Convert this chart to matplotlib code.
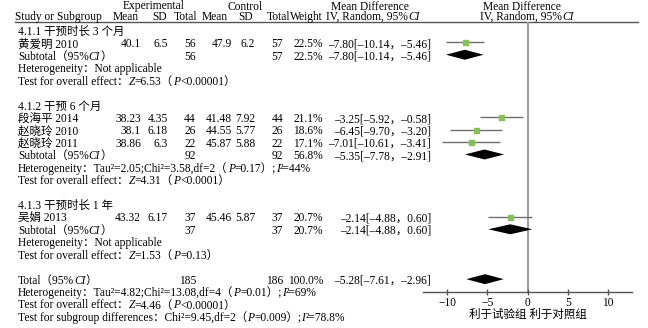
import matplotlib
matplotlib.use('Agg')
import matplotlib.pyplot as plt

plt.rcParams['font.family'] = ['Liberation Serif', 'Noto Sans CJK SC']
plt.rcParams['font.size'] = 8.3
plt.rcParams['axes.unicode_minus'] = True

# individual studies
study = ['黄爱明 2010', '段海平 2014', '赵晓玲 2010', '赵晓玲 2011', '吴娟 2013']
exp_mean = [40.1, 38.23, 38.1, 38.86, 43.32]
exp_sd = [6.5, 4.35, 6.18, 6.3, 6.17]
exp_n = [56, 44, 26, 22, 37]
ctl_mean = [47.9, 41.48, 44.55, 45.87, 45.46]
ctl_sd = [6.2, 7.92, 5.77, 5.88, 5.87]
ctl_n = [57, 44, 26, 22, 37]
weight = [22.5, 21.1, 18.6, 17.1, 20.7]
md = [-7.80, -3.25, -6.45, -7.01, -2.14]
md_lo = [-10.14, -5.92, -9.70, -10.61, -4.88]
md_hi = [-5.46, -0.58, -3.20, -3.41, 0.60]

# subgroups
groups = ['4.1.1 干预时长 3 个月', '4.1.2 干预 6 个月', '4.1.3 干预时长 1 年']
sub_exp_n = [56, 92, 37]
sub_ctl_n = [57, 92, 37]
sub_weight = [22.5, 56.8, 20.7]
sub_md = [-7.80, -5.35, -2.14]
sub_lo = [-10.14, -7.78, -4.88]
sub_hi = [-5.46, -2.91, 0.60]
sub_het = ['Not applicable',
           'Tau²=2.05;Chi²=3.58,df=2（*P*=0.17）;*I*²=44%',
           'Not applicable']
sub_z = ['6.53（*P*<0.00001）', '4.31（*P*<0.0001）', '1.53（*P*=0.13）']

# overall
total_exp_n = 185
total_ctl_n = 186
total_weight = 100.0
total_md = -5.28
total_lo = -7.61
total_hi = -2.96
total_het = 'Tau²=4.82;Chi²=13.08,df=4（*P*=0.01）;*I*²=69%'
total_z = '4.46（*P*<0.00001）'
subgroup_diff = 'Chi²=9.45,df=2（*P*=0.009）;*I*²=78.8%'

xticks = [-10, -5, 0, 5, 10]
xlabel = '利于试验组 利于对照组'

# row layout (row index per line of the table)
group_row = [0, 6, 14]
study_row = [1, 7, 8, 9, 15]
sub_row = [2, 10, 16]
het_row = [3, 11, 17]
z_row = [4, 12, 18]
total_row = 20

GREEN = '#86c05a'
fs = 8.3

fig = plt.figure(figsize=(6.48, 3.28), dpi=100)
ax0 = fig.add_axes([0, 0, 1, 1])
ax0.set_xlim(0, 648)
ax0.set_ylim(328, 0)
ax0.axis('off')


def ty(r):
    return 32 + 12.43 * r


def rich(x, y, s):
    # segments between '*' are italic
    t = None
    for i, p in enumerate(s.split('*')):
        if not p:
            continue
        style = 'italic' if i % 2 else 'normal'
        if t is None:
            t = ax0.text(x, y, p, va='center', ha='left', style=style, fontsize=fs)
        else:
            t = ax0.annotate(p, xy=(1, 0), xycoords=t, va='bottom', ha='left',
                             style=style, fontsize=fs)
    return t


def fmt_md(m, lo, hi):
    return f'{m:.2f}[{lo:.2f}，{hi:.2f}]'.replace('-', '–')


# headers
ax0.text(154, 6.5, 'Experimental', ha='center', va='center')
ax0.text(245, 6.5, 'Control', ha='center', va='center')
ax0.text(370, 6.5, 'Mean Difference', ha='center', va='center')
ax0.text(522, 6.5, 'Mean Difference', ha='center', va='center')
ax0.text(15, 17, 'Study or Subgroup', ha='left', va='center')
for x, lab in zip([139, 167, 197, 228, 253, 290, 323],
                  ['Mean', 'SD', 'Total', 'Mean', 'SD', 'Total', 'Weight']):
    ax0.text(x, 17, lab, ha='right', va='center')
rich(326, 17, 'IV, Random, 95%*CI*')
rich(480, 17, 'IV, Random, 95%*CI*')
ax0.plot([15, 638], [22, 22], color='#555555', lw=1)

cols = [141, 168, 196, 232, 255, 283, 323]
for i in range(len(study)):
    y = ty(study_row[i])
    ax0.text(18, y, study[i], va='center')
    vals = [str(exp_mean[i]), str(exp_sd[i]), str(exp_n[i]), str(ctl_mean[i]),
            str(ctl_sd[i]), str(ctl_n[i]), f'{weight[i]:.1f}%']
    for x, v in zip(cols, vals):
        ax0.text(x, y, v, ha='right', va='center')
    ax0.text(431, y, fmt_md(md[i], md_lo[i], md_hi[i]), ha='right', va='center')

for g in range(len(groups)):
    ax0.text(18, ty(group_row[g]), groups[g], va='center')
    y = ty(sub_row[g])
    rich(18, y, 'Subtotal（95%*CI*）')
    ax0.text(196, y, str(sub_exp_n[g]), ha='right', va='center')
    ax0.text(283, y, str(sub_ctl_n[g]), ha='right', va='center')
    ax0.text(323, y, f'{sub_weight[g]:.1f}%', ha='right', va='center')
    ax0.text(431, y, fmt_md(sub_md[g], sub_lo[g], sub_hi[g]), ha='right', va='center')
    rich(18, ty(het_row[g]), 'Heterogeneity：' + sub_het[g])
    rich(18, ty(z_row[g]), 'Test for overall effect：*Z*=' + sub_z[g])

y = ty(total_row)
rich(18, y, 'Total（95%*CI*）')
ax0.text(196, y, str(total_exp_n), ha='right', va='center')
ax0.text(283, y, str(total_ctl_n), ha='right', va='center')
ax0.text(323, y, f'{total_weight:.1f}%', ha='right', va='center')
ax0.text(431, y, fmt_md(total_md, total_lo, total_hi), ha='right', va='center')
rich(18, ty(total_row + 1), 'Heterogeneity：' + total_het)
rich(18, ty(total_row + 2), 'Test for overall effect：*Z*=' + total_z)
rich(18, ty(total_row + 3), 'Test for subgroup differences：' + subgroup_diff)

# forest plot panel
ax1 = fig.add_axes([423 / 648, 1 - 292 / 328, 209 / 648, 270 / 328])
ax1.set_facecolor('none')
ax1.set_xlim(-13, 13)
ax1.set_ylim(21.03, -0.6255)
for s in ['top', 'left', 'right']:
    ax1.spines[s].set_visible(False)
ax1.spines['bottom'].set_color('#555555')
ax1.spines['bottom'].set_linewidth(1)
ax1.set_yticks([])
ax1.set_xticks(xticks)
ax1.tick_params(axis='x', direction='inout', length=4.4, width=1, color='#555555',
                pad=1.2, labelsize=fs)
ax1.set_xlabel(xlabel, fontsize=fs, labelpad=0)
ax1.axvline(0, color='#a0a0a0', lw=1.5, zorder=0)

ax1.hlines(study_row, md_lo, md_hi, color='#707070', lw=1)
ax1.plot(md, study_row, 's', ms=3.6, color=GREEN, mec=GREEN)

h = 0.4
for r, m, lo, hi in zip(sub_row + [total_row], sub_md + [total_md],
                        sub_lo + [total_lo], sub_hi + [total_hi]):
    ax1.fill([lo, m, hi, m], [r, r - h, r, r + h], color='black', lw=0)

fig.savefig('out.png', dpi=100)
